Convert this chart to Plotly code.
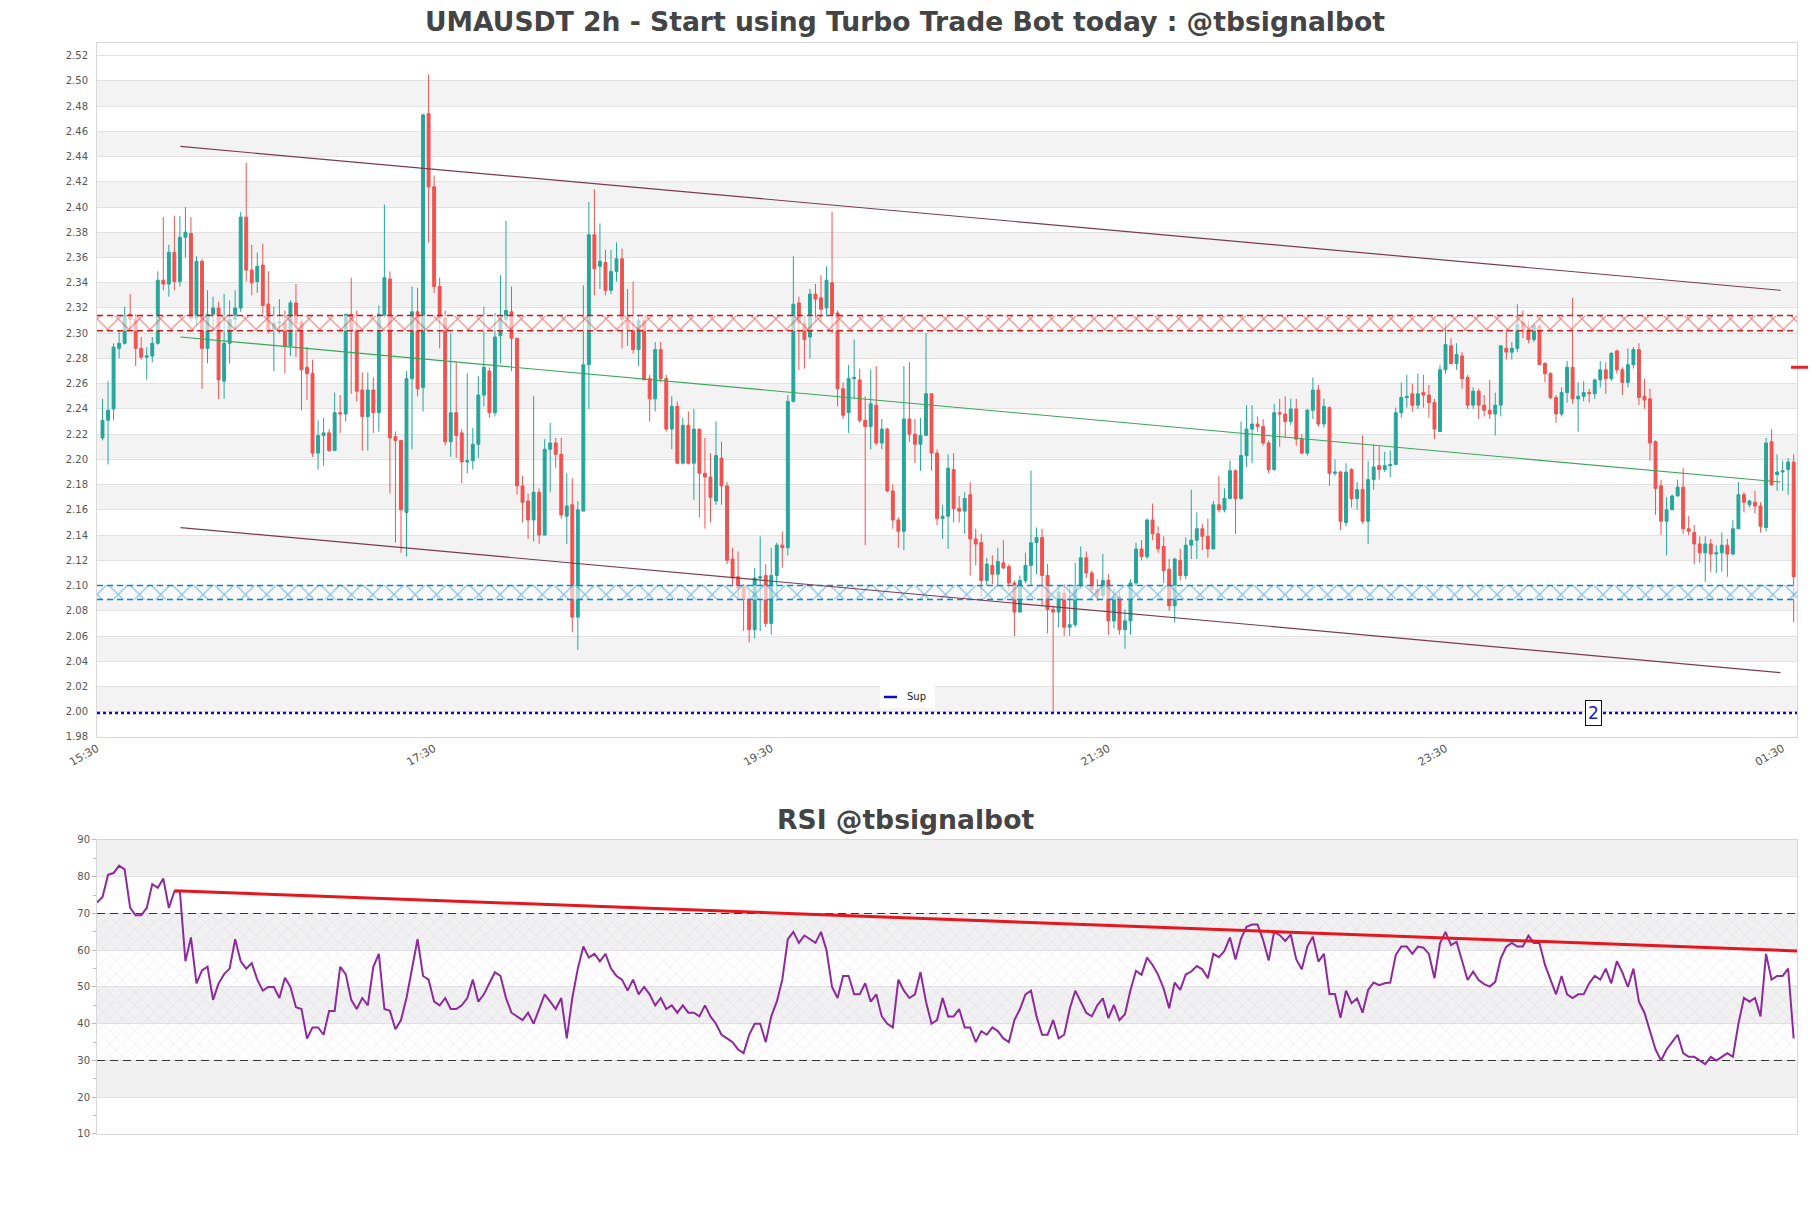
import plotly.graph_objects as go

TITLE_MAIN = "UMAUSDT 2h - Start using Turbo Trade Bot today : @tbsignalbot"
TITLE_RSI = "RSI @tbsignalbot"

opens = [
    2.217, 2.231, 2.240, 2.288, 2.292, 2.315, 2.311, 2.288, 2.281, 2.282,
    2.292, 2.342, 2.339, 2.364, 2.341, 2.376, 2.379, 2.312, 2.357, 2.288,
    2.315, 2.320, 2.262, 2.292, 2.311, 2.320, 2.392, 2.350, 2.341, 2.354,
    2.323, 2.303, 2.308, 2.308, 2.290, 2.324, 2.309, 2.273, 2.268, 2.205,
    2.219, 2.221, 2.207, 2.237, 2.236, 2.315, 2.303, 2.255, 2.234, 2.255,
    2.237, 2.314, 2.343, 2.218, 2.215, 2.158, 2.264, 2.317, 2.257, 2.474,
    2.416, 2.337, 2.312, 2.214, 2.237, 2.221, 2.198, 2.199, 2.212, 2.251,
    2.270, 2.237, 2.298, 2.311, 2.317, 2.296, 2.179, 2.167, 2.152, 2.174,
    2.140, 2.208, 2.213, 2.204, 2.155, 2.164, 2.075, 2.159, 2.275, 2.378,
    2.353, 2.356, 2.334, 2.349, 2.359, 2.310, 2.303, 2.287, 2.310, 2.264,
    2.248, 2.287, 2.264, 2.224, 2.242, 2.197, 2.227, 2.197, 2.224, 2.189,
    2.186, 2.167, 2.201, 2.179, 2.121, 2.107, 2.099, 2.089, 2.065, 2.106,
    2.108, 2.070, 2.108, 2.132, 2.130, 2.246, 2.324, 2.308, 2.297, 2.331,
    2.328, 2.320, 2.340, 2.316, 2.256, 2.237, 2.264, 2.263, 2.231, 2.226,
    2.243, 2.213, 2.224, 2.175, 2.152, 2.143, 2.232, 2.220, 2.212, 2.219,
    2.252, 2.205, 2.153, 2.155, 2.192, 2.161, 2.159, 2.172, 2.137, 2.134,
    2.104, 2.116, 2.109, 2.118, 2.115, 2.102, 2.079, 2.104, 2.116, 2.134,
    2.138, 2.108, 2.081, 2.079, 2.094, 2.067, 2.069, 2.100, 2.122, 2.110,
    2.097, 2.092, 2.104, 2.072, 2.091, 2.065, 2.072, 2.102, 2.129, 2.123,
    2.152, 2.141, 2.131, 2.113, 2.084, 2.120, 2.108, 2.132, 2.136, 2.145,
    2.139, 2.129, 2.164, 2.160, 2.169, 2.191, 2.169, 2.203, 2.224, 2.228,
    2.226, 2.213, 2.192, 2.237, 2.236, 2.230, 2.240, 2.216, 2.205, 2.239,
    2.255, 2.228, 2.241, 2.189, 2.190, 2.150, 2.192, 2.169, 2.176, 2.151,
    2.184, 2.195, 2.192, 2.195, 2.196, 2.237, 2.249, 2.252, 2.243, 2.253,
    2.251, 2.245, 2.222, 2.271, 2.290, 2.276, 2.282, 2.265, 2.243, 2.254,
    2.243, 2.239, 2.236, 2.243, 2.288, 2.285, 2.288, 2.309, 2.302, 2.295,
    2.306, 2.276, 2.268, 2.249, 2.236, 2.253, 2.273, 2.248, 2.250, 2.253,
    2.252, 2.263, 2.271, 2.264, 2.286, 2.271, 2.261, 2.275, 2.287, 2.250,
    2.248, 2.214, 2.179, 2.151, 2.160, 2.171, 2.178, 2.145, 2.142, 2.133,
    2.126, 2.133, 2.125, 2.126, 2.132, 2.125, 2.145, 2.172, 2.164, 2.166,
    2.163, 2.146, 2.214, 2.188, 2.190, 2.192, 2.198,
]
highs = [
    2.248, 2.262, 2.292, 2.302, 2.321, 2.331, 2.315, 2.297, 2.289, 2.297,
    2.349, 2.392, 2.370, 2.393, 2.393, 2.400, 2.392, 2.361, 2.359, 2.334,
    2.329, 2.325, 2.331, 2.326, 2.334, 2.396, 2.435, 2.370, 2.364, 2.371,
    2.349, 2.321, 2.327, 2.318, 2.326, 2.339, 2.311, 2.289, 2.279, 2.231,
    2.233, 2.224, 2.253, 2.251, 2.315, 2.344, 2.318, 2.269, 2.269, 2.265,
    2.322, 2.402, 2.349, 2.222, 2.215, 2.270, 2.337, 2.336, 2.474, 2.505,
    2.425, 2.344, 2.318, 2.300, 2.277, 2.224, 2.268, 2.225, 2.266, 2.321,
    2.273, 2.316, 2.346, 2.389, 2.337, 2.296, 2.187, 2.173, 2.250, 2.177,
    2.216, 2.229, 2.217, 2.217, 2.189, 2.185, 2.167, 2.338, 2.404, 2.414,
    2.387, 2.366, 2.366, 2.372, 2.367, 2.335, 2.341, 2.314, 2.313, 2.267,
    2.293, 2.293, 2.267, 2.250, 2.246, 2.233, 2.238, 2.240, 2.224, 2.217,
    2.205, 2.230, 2.214, 2.182, 2.130, 2.127, 2.101, 2.096, 2.114, 2.139,
    2.117, 2.130, 2.134, 2.143, 2.251, 2.361, 2.329, 2.314, 2.335, 2.339,
    2.346, 2.353, 2.396, 2.318, 2.261, 2.275, 2.295, 2.272, 2.250, 2.271,
    2.274, 2.232, 2.225, 2.180, 2.154, 2.274, 2.277, 2.232, 2.233, 2.300,
    2.252, 2.208, 2.164, 2.204, 2.205, 2.171, 2.174, 2.182, 2.145, 2.141,
    2.122, 2.124, 2.130, 2.136, 2.117, 2.104, 2.108, 2.126, 2.191, 2.146,
    2.145, 2.117, 2.084, 2.098, 2.101, 2.100, 2.118, 2.131, 2.127, 2.112,
    2.105, 2.125, 2.109, 2.098, 2.095, 2.081, 2.105, 2.134, 2.136, 2.153,
    2.165, 2.147, 2.139, 2.121, 2.122, 2.129, 2.138, 2.176, 2.158, 2.149,
    2.153, 2.167, 2.187, 2.177, 2.199, 2.192, 2.230, 2.243, 2.243, 2.234,
    2.232, 2.215, 2.244, 2.248, 2.250, 2.248, 2.248, 2.220, 2.240, 2.265,
    2.259, 2.248, 2.242, 2.200, 2.191, 2.197, 2.193, 2.182, 2.219, 2.199,
    2.212, 2.211, 2.206, 2.207, 2.241, 2.261, 2.267, 2.260, 2.268, 2.267,
    2.259, 2.248, 2.275, 2.308, 2.296, 2.292, 2.285, 2.267, 2.257, 2.256,
    2.251, 2.263, 2.253, 2.290, 2.303, 2.293, 2.323, 2.318, 2.310, 2.307,
    2.306, 2.277, 2.269, 2.251, 2.257, 2.278, 2.328, 2.261, 2.262, 2.256,
    2.264, 2.278, 2.277, 2.285, 2.287, 2.273, 2.288, 2.289, 2.292, 2.264,
    2.256, 2.215, 2.184, 2.170, 2.172, 2.184, 2.193, 2.155, 2.148, 2.139,
    2.139, 2.137, 2.132, 2.142, 2.137, 2.152, 2.182, 2.174, 2.168, 2.175,
    2.166, 2.217, 2.224, 2.204, 2.199, 2.201, 2.204,
]
lows = [
    2.215, 2.196, 2.231, 2.280, 2.291, 2.303, 2.274, 2.279, 2.263, 2.277,
    2.291, 2.334, 2.329, 2.334, 2.337, 2.360, 2.309, 2.306, 2.256, 2.276,
    2.303, 2.248, 2.248, 2.276, 2.303, 2.317, 2.341, 2.330, 2.332, 2.315,
    2.300, 2.270, 2.300, 2.268, 2.282, 2.281, 2.239, 2.247, 2.202, 2.192,
    2.195, 2.206, 2.207, 2.221, 2.230, 2.252, 2.246, 2.207, 2.207, 2.221,
    2.222, 2.312, 2.173, 2.134, 2.126, 2.123, 2.208, 2.250, 2.238, 2.372,
    2.332, 2.288, 2.211, 2.202, 2.201, 2.181, 2.189, 2.192, 2.201, 2.242,
    2.233, 2.234, 2.276, 2.303, 2.270, 2.172, 2.150, 2.137, 2.135, 2.133,
    2.140, 2.174, 2.193, 2.153, 2.133, 2.063, 2.049, 2.159, 2.240, 2.330,
    2.335, 2.330, 2.331, 2.341, 2.288, 2.290, 2.284, 2.274, 2.263, 2.230,
    2.238, 2.261, 2.222, 2.208, 2.196, 2.196, 2.196, 2.168, 2.154, 2.145,
    2.150, 2.164, 2.164, 2.117, 2.099, 2.090, 2.064, 2.055, 2.058, 2.064,
    2.067, 2.061, 2.088, 2.114, 2.124, 2.245, 2.271, 2.272, 2.280, 2.309,
    2.308, 2.313, 2.300, 2.242, 2.232, 2.221, 2.248, 2.229, 2.132, 2.208,
    2.211, 2.208, 2.174, 2.145, 2.130, 2.128, 2.214, 2.197, 2.191, 2.219,
    2.191, 2.148, 2.137, 2.129, 2.150, 2.150, 2.141, 2.108, 2.116, 2.091,
    2.100, 2.101, 2.100, 2.113, 2.096, 2.060, 2.079, 2.102, 2.100, 2.109,
    2.084, 2.062, 1.999, 2.067, 2.060, 2.060, 2.067, 2.097, 2.106, 2.094,
    2.088, 2.089, 2.061, 2.066, 2.061, 2.050, 2.061, 2.100, 2.120, 2.121,
    2.136, 2.126, 2.102, 2.080, 2.071, 2.104, 2.105, 2.121, 2.121, 2.128,
    2.122, 2.129, 2.158, 2.158, 2.169, 2.141, 2.168, 2.194, 2.197, 2.222,
    2.211, 2.189, 2.191, 2.210, 2.217, 2.227, 2.211, 2.204, 2.203, 2.232,
    2.226, 2.225, 2.179, 2.187, 2.144, 2.147, 2.162, 2.160, 2.149, 2.133,
    2.176, 2.184, 2.190, 2.186, 2.196, 2.233, 2.241, 2.238, 2.240, 2.241,
    2.233, 2.216, 2.222, 2.268, 2.275, 2.271, 2.256, 2.240, 2.240, 2.232,
    2.234, 2.232, 2.219, 2.234, 2.279, 2.279, 2.285, 2.296, 2.292, 2.293,
    2.275, 2.261, 2.248, 2.229, 2.234, 2.245, 2.244, 2.222, 2.246, 2.245,
    2.248, 2.257, 2.252, 2.262, 2.268, 2.251, 2.257, 2.272, 2.243, 2.240,
    2.199, 2.156, 2.140, 2.124, 2.160, 2.171, 2.141, 2.140, 2.117, 2.118,
    2.103, 2.111, 2.110, 2.111, 2.107, 2.124, 2.145, 2.158, 2.162, 2.157,
    2.142, 2.143, 2.179, 2.175, 2.175, 2.172, 2.071,
]
closes = [
    2.231, 2.239, 2.289, 2.292, 2.314, 2.311, 2.288, 2.281, 2.282, 2.292,
    2.342, 2.339, 2.364, 2.341, 2.376, 2.380, 2.312, 2.357, 2.288, 2.315,
    2.320, 2.263, 2.292, 2.311, 2.320, 2.392, 2.350, 2.340, 2.353, 2.322,
    2.302, 2.308, 2.309, 2.290, 2.324, 2.308, 2.271, 2.268, 2.205, 2.219,
    2.221, 2.207, 2.237, 2.236, 2.315, 2.303, 2.254, 2.234, 2.255, 2.237,
    2.315, 2.344, 2.217, 2.215, 2.160, 2.264, 2.317, 2.256, 2.473, 2.416,
    2.337, 2.312, 2.214, 2.237, 2.219, 2.198, 2.199, 2.212, 2.251, 2.273,
    2.237, 2.297, 2.311, 2.318, 2.296, 2.179, 2.166, 2.152, 2.174, 2.140,
    2.208, 2.213, 2.204, 2.156, 2.163, 2.075, 2.160, 2.275, 2.378, 2.351,
    2.357, 2.334, 2.349, 2.359, 2.311, 2.303, 2.287, 2.310, 2.263, 2.248,
    2.287, 2.264, 2.224, 2.242, 2.197, 2.227, 2.197, 2.224, 2.189, 2.186,
    2.170, 2.203, 2.179, 2.120, 2.106, 2.098, 2.089, 2.065, 2.106, 2.107,
    2.070, 2.108, 2.132, 2.130, 2.246, 2.323, 2.308, 2.295, 2.331, 2.327,
    2.319, 2.342, 2.315, 2.256, 2.235, 2.264, 2.265, 2.231, 2.226, 2.244,
    2.213, 2.224, 2.175, 2.152, 2.143, 2.232, 2.220, 2.212, 2.219, 2.252,
    2.205, 2.153, 2.155, 2.193, 2.161, 2.159, 2.169, 2.137, 2.133, 2.104,
    2.117, 2.109, 2.119, 2.114, 2.102, 2.079, 2.104, 2.116, 2.134, 2.138,
    2.108, 2.081, 2.079, 2.095, 2.067, 2.069, 2.100, 2.122, 2.110, 2.097,
    2.092, 2.104, 2.072, 2.091, 2.065, 2.072, 2.102, 2.129, 2.123, 2.152,
    2.141, 2.129, 2.112, 2.084, 2.121, 2.108, 2.132, 2.136, 2.145, 2.139,
    2.129, 2.164, 2.160, 2.169, 2.191, 2.169, 2.203, 2.224, 2.228, 2.226,
    2.213, 2.192, 2.237, 2.236, 2.230, 2.240, 2.216, 2.205, 2.239, 2.255,
    2.228, 2.242, 2.189, 2.190, 2.151, 2.190, 2.169, 2.176, 2.151, 2.184,
    2.194, 2.192, 2.195, 2.196, 2.237, 2.249, 2.250, 2.243, 2.252, 2.251,
    2.245, 2.224, 2.271, 2.291, 2.276, 2.283, 2.264, 2.243, 2.254, 2.243,
    2.239, 2.236, 2.243, 2.290, 2.285, 2.288, 2.307, 2.302, 2.295, 2.306,
    2.275, 2.268, 2.249, 2.236, 2.253, 2.273, 2.248, 2.250, 2.253, 2.252,
    2.263, 2.271, 2.264, 2.284, 2.271, 2.261, 2.275, 2.287, 2.249, 2.247,
    2.213, 2.177, 2.151, 2.160, 2.171, 2.178, 2.145, 2.143, 2.133, 2.126,
    2.133, 2.125, 2.126, 2.132, 2.125, 2.145, 2.172, 2.166, 2.167, 2.163,
    2.147, 2.213, 2.180, 2.190, 2.191, 2.198, 2.107,
]

rsi = [
    73, 74.5, 80.5, 81, 83, 82, 71.5, 69.5, 69.5, 71.5,
    78, 77, 79.5, 71.5, 76, 76, 57, 63.5, 51, 54.5,
    55.5, 46.5, 51, 53.5, 55, 63, 57, 55, 56.5, 52,
    49, 50, 50, 47, 52.5, 50, 44.5, 44, 36, 39,
    39, 37, 43.5, 43.5, 55.5, 53.5, 46.5, 44, 47, 45,
    55.5, 59, 44, 43.5, 38.5, 41, 47, 55, 63, 53,
    52, 46, 45, 47, 44, 44, 45, 47, 52, 46,
    48, 51, 54, 53, 47, 43, 42, 41, 43, 40,
    44, 48, 46, 44, 47, 36, 47, 55, 61, 58,
    59, 57, 59, 55, 53, 52, 49, 52, 48, 50,
    48, 45, 47, 44, 45, 43, 45, 43, 43, 42,
    45, 42, 40, 37, 36, 35, 33, 32, 37, 40,
    40, 35, 42, 46, 52, 63, 65, 62, 64, 63,
    62, 65, 60, 50, 47, 53, 53, 48, 48, 51,
    46, 48, 42, 40, 39, 52, 49, 47, 48, 54,
    46, 40, 41, 47, 42, 42, 44, 39, 39, 35,
    38, 37, 39, 38, 36, 35, 41, 44, 48, 49,
    42, 37, 37, 41, 36, 37, 44, 49, 46, 43,
    42, 45,
    46.9, 41.5, 45.1, 41.0, 42.6, 49.2, 54.4, 53.3, 58.0, 56.0,
    53.3, 49.6, 44.2, 51.2, 49.2, 53.4, 54.2, 55.7, 54.8, 52.4,
    59.0, 58.1, 59.8, 63.5, 57.5, 63.2, 66.4, 67.0, 67.0, 62.8,
    57.2, 65.0, 64.1, 62.5, 64.3, 57.5, 54.8, 61.0, 63.7, 56.9,
    59.0, 48.1, 48.1, 41.6, 49.0, 45.6, 46.9, 43.0, 49.2, 51.2,
    50.5, 51.0, 51.2, 58.7, 61.0, 61.0, 59.0, 61.0, 60.7, 59.0,
    52.4, 61.9, 65.0, 61.4, 62.3, 56.9, 51.9, 54.2, 51.9, 50.8,
    50.1, 51.4, 57.8,
    61, 62, 61, 61, 64, 62, 62, 56, 52, 48,
    53, 48, 47, 48, 48, 51, 53, 52, 55, 51,
    57, 54, 50, 55, 46, 43, 38, 33, 30, 33,
    35, 37, 32, 31, 31, 30, 29, 31, 30, 31,
    32, 31, 40, 47, 46, 47, 42, 59, 52, 53,
    53, 55, 36,
]

time_labels = ["15:30", "17:30", "19:30", "21:30", "23:30", "01:30"]
time_label_pos = [0, 61, 122, 183, 244, 305]
x_range = [0, 307.6]

price_ticks = [round(1.98 + 0.02 * i, 2) for i in range(28)]
res_zone = [2.302, 2.314]
sup_zone = [2.089, 2.100]
sup_level = 1.999
sup_label = "2"
sup_label_x = 270.7
channel_x = [15.1, 304.6]
channel_upper = [2.448, 2.334]
channel_mid = [2.297, 2.182]
channel_lower = [2.146, 2.031]
last_mark_price = 2.273

rsi_ticks = [10, 20, 30, 40, 50, 60, 70, 80, 90]
rsi_levels = [30, 70]
rsi_trend_x = [14, 307.6]
rsi_trend_y = [76.2, 59.8]

FONT = "DejaVu Sans"
UP = "#26a69a"
DOWN = "#ef5350"

x_candles = [i + 1 for i in range(len(closes))]
x_rsi = list(range(len(rsi)))

fig = go.Figure()


def zone(lo, hi, color):
    xs = [x_range[0], x_range[1], x_range[1], x_range[0], x_range[0]]
    ys = [lo, lo, hi, hi, lo]
    fig.add_trace(go.Scatter(
        x=xs, y=ys, fill="toself", mode="lines", line=dict(width=0),
        fillcolor="rgba(255,255,255,0.6)",
        fillpattern=dict(shape="x", fgcolor=color, bgcolor="rgba(255,255,255,0.6)",
                         size=15, solidity=0.16),
        hoverinfo="skip", showlegend=False, xaxis="x", yaxis="y"))
    for v in (lo, hi):
        fig.add_trace(go.Scatter(
            x=x_range, y=[v, v], mode="lines",
            line=dict(color=color, width=1.6, dash="6px,4px"),
            hoverinfo="skip", showlegend=False, xaxis="x", yaxis="y"))


zone(res_zone[0], res_zone[1], "#d41616")
zone(sup_zone[0], sup_zone[1], "#0d86cf")

for ys, col, w in ((channel_upper, "#7a3b52", 1.2), (channel_lower, "#7a3b52", 1.2),
                   (channel_mid, "#3aa65a", 1.1)):
    fig.add_trace(go.Scatter(x=channel_x, y=ys, mode="lines",
                             line=dict(color=col, width=w),
                             hoverinfo="skip", showlegend=False, xaxis="x", yaxis="y"))

fig.add_trace(go.Candlestick(
    x=x_candles, open=opens, high=highs, low=lows, close=closes,
    increasing=dict(line=dict(color=UP, width=1), fillcolor=UP),
    decreasing=dict(line=dict(color=DOWN, width=1), fillcolor=DOWN),
    whiskerwidth=0, showlegend=False, xaxis="x", yaxis="y", name="UMAUSDT"))

fig.add_trace(go.Scatter(x=x_range, y=[sup_level, sup_level], mode="lines",
                         line=dict(color="#0c0cc8", width=2.6, dash="dot"),
                         name="Sup", showlegend=False, xaxis="x", yaxis="y"))

# RSI panel
fig.add_trace(go.Scatter(
    x=[x_range[0], x_range[1], x_range[1], x_range[0], x_range[0]],
    y=[rsi_levels[0], rsi_levels[0], rsi_levels[1], rsi_levels[1], rsi_levels[0]],
    fill="toself", mode="lines", line=dict(width=0), fillcolor="rgba(0,0,0,0)",
    fillpattern=dict(shape="x", fgcolor="rgba(180,160,205,0.6)", bgcolor="rgba(0,0,0,0)",
                     size=9, solidity=0.12),
    hoverinfo="skip", showlegend=False, xaxis="x2", yaxis="y2"))
for lv in rsi_levels:
    fig.add_trace(go.Scatter(x=x_range, y=[lv, lv], mode="lines",
                             line=dict(color="#333333", width=1, dash="8px,5px"),
                             hoverinfo="skip", showlegend=False, xaxis="x2", yaxis="y2"))
fig.add_trace(go.Scatter(x=x_rsi, y=rsi, mode="lines",
                         line=dict(color="#8e2a9c", width=2),
                         showlegend=False, xaxis="x2", yaxis="y2", name="RSI"))
fig.add_trace(go.Scatter(x=rsi_trend_x, y=rsi_trend_y, mode="lines",
                         line=dict(color="#e5161e", width=3),
                         showlegend=False, xaxis="x2", yaxis="y2"))

shapes = []
for lb in price_ticks:
    k = round((lb - 2.00) / 0.02)
    if k >= 0 and k % 2 == 0 and lb < price_ticks[-1]:
        shapes.append(dict(type="rect", xref="paper", yref="y", x0=0, x1=1,
                           y0=lb, y1=lb + 0.02, fillcolor="#f3f3f3",
                           line=dict(width=0), layer="below"))
for lb in rsi_ticks[1:-1:2]:
    shapes.append(dict(type="rect", xref="paper", yref="y2", x0=0, x1=1,
                       y0=lb, y1=lb + 10, fillcolor="#f1f1f1",
                       line=dict(width=0), layer="below"))
# pseudo legend "Sup"
shapes.append(dict(type="rect", xref="paper", yref="y", x0=0.4606, x1=0.4929,
                   y0=2.0029, y1=2.0204, fillcolor="white", line=dict(width=0)))
shapes.append(dict(type="line", xref="paper", yref="y", x0=0.4629, x1=0.4706,
                   y0=2.0117, y1=2.0117, line=dict(color="#0c0cc8", width=2.5)))
# last price mark at right edge
shapes.append(dict(type="line", xref="paper", yref="y", x0=0.9965, x1=1.0065,
                   y0=last_mark_price, y1=last_mark_price,
                   line=dict(color="#e8202a", width=3)))

annotations = [
    dict(text=TITLE_MAIN, xref="paper", yref="paper", x=0.4753, y=1.0193,
         xanchor="center", yanchor="middle", showarrow=False,
         font=dict(family=FONT, size=26.6, color="#444444", weight="bold")),
    dict(text=TITLE_RSI, xref="paper", yref="paper", x=0.4753, y=0.2887,
         xanchor="center", yanchor="middle", showarrow=False,
         font=dict(family=FONT, size=26.6, color="#444444", weight="bold")),
    dict(text="Sup", xref="paper", yref="y", x=0.4755, y=2.0117,
         xanchor="left", yanchor="middle", showarrow=False,
         font=dict(family=FONT, size=10, color="#222222")),
    dict(text=sup_label, xref="x", yref="y", x=sup_label_x, y=sup_level,
         xanchor="center", yanchor="middle", showarrow=False,
         bgcolor="white", bordercolor="#111111", borderwidth=1, borderpad=2,
         font=dict(family=FONT, size=17, color="#1a1acc")),
]

axis_common = dict(showline=True, mirror=True, linecolor="#d8d8d8", linewidth=1,
                   zeroline=False)

fig.update_layout(
    width=1811, height=1208,
    margin=dict(l=97, r=14, t=43, b=74),
    paper_bgcolor="white", plot_bgcolor="white",
    font=dict(family=FONT, color="#555555"),
    showlegend=False,
    boxgap=0.25,
    shapes=shapes, annotations=annotations,
    xaxis=dict(domain=[0, 1], anchor="y", range=x_range, tickvals=time_label_pos,
               ticktext=time_labels, tickangle=-30, showgrid=False,
               tickfont=dict(size=11, color="#555555"),
               rangeslider=dict(visible=False), **axis_common),
    yaxis=dict(domain=[0.3639, 1], anchor="x", range=[1.98, 2.53],
               tickvals=price_ticks, ticktext=["%.2f" % v for v in price_ticks],
               showgrid=True, gridcolor="#e2e2e2", gridwidth=1,
               ticks="outside", ticklen=6, tickcolor="rgba(0,0,0,0)",
               tickfont=dict(size=10, color="#555555"), **axis_common),
    xaxis2=dict(domain=[0, 1], anchor="y2", range=x_range, showticklabels=False,
                showgrid=False, **axis_common),
    yaxis2=dict(domain=[0, 0.2695], anchor="x2", range=[10, 90], tickvals=rsi_ticks,
                showgrid=True, gridcolor="#e2e2e2", ticks="outside", ticklen=4,
                tickcolor="#bbbbbb",
                minor=dict(ticks="outside", dtick=5, ticklen=3, tickcolor="#bbbbbb",
                           showgrid=False),
                tickfont=dict(size=10, color="#555555"), **axis_common),
)

fig.write_html("out.html")
